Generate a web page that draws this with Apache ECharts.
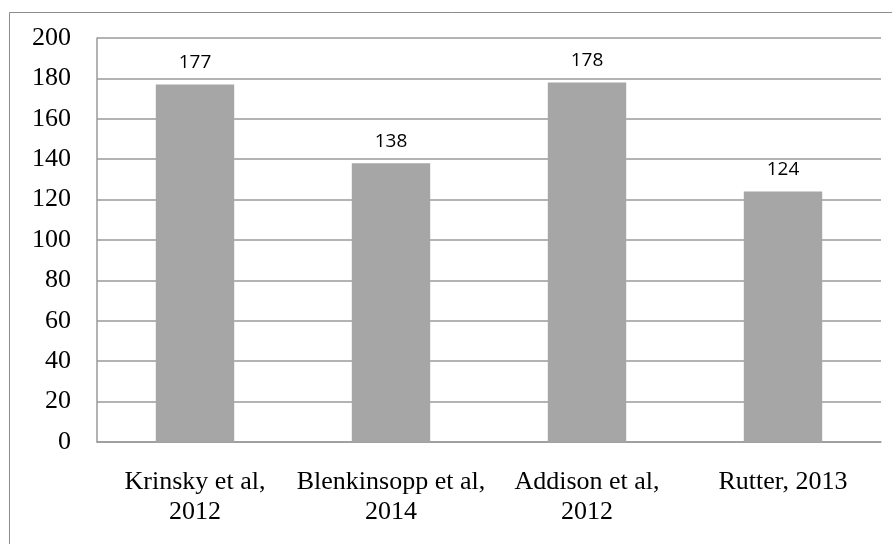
<!DOCTYPE html>
<html>
<head>
<meta charset="utf-8">
<script src="https://cdn.jsdelivr.net/npm/echarts@6/dist/echarts.min.js"></script>
<style>
  html, body { margin: 0; padding: 0; background: #fff; }
  #chart { width: 892px; height: 544px; }
</style>
</head>
<body>
<div id="chart"></div>
<script>
// Studies and the reported counts
const categories = ['Krinsky et al,\n2012', 'Blenkinsopp et al,\n2014', 'Addison et al,\n2012', 'Rutter, 2013'];
const values = [177, 138, 178, 124];

const chart = echarts.init(document.getElementById('chart'));
chart.setOption({
  animation: false,
  grid: { left: 97, right: 11, top: 38, bottom: 102 },
  graphic: [{
    type: 'rect',
    shape: { x: 9.5, y: 12.5, width: 1000, height: 1000 },
    style: { fill: 'none', stroke: '#8c8c8c', lineWidth: 1 },
    silent: true
  }],
  xAxis: {
    type: 'category',
    data: categories,
    axisTick: { show: false },
    axisLine: { show: true, lineStyle: { color: '#9a9a9a', width: 1.5 } },
    axisLabel: {
      color: '#000',
      fontFamily: 'Liberation Serif',
      fontSize: 26,
      lineHeight: 30,
      margin: 25,
      interval: 0
    }
  },
  yAxis: {
    type: 'value',
    min: 0,
    max: 200,
    interval: 20,
    axisLine: { show: true, lineStyle: { color: '#9a9a9a', width: 1.5 } },
    axisTick: { show: false },
    splitLine: { lineStyle: { color: '#9a9a9a', width: 1.5 } },
    axisLabel: {
      color: '#000',
      fontFamily: 'Liberation Serif',
      fontSize: 26,
      margin: 26
    }
  },
  series: [{
    type: 'bar',
    data: values,
    barWidth: '40%',
    itemStyle: { color: '#a6a6a6' },
    label: {
      show: true,
      position: 'top',
      distance: 12,
      color: '#000',
      fontFamily: 'Open Sans',
      fontSize: 19
    }
  }]
});
</script>
</body>
</html>
